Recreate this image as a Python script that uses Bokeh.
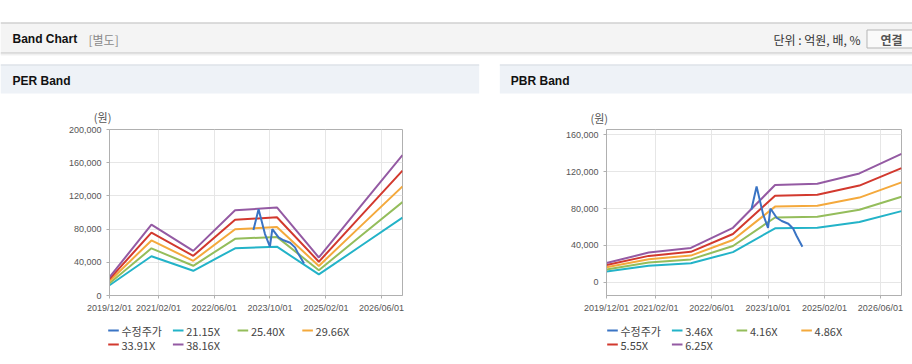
import pandas as pd
from bokeh.plotting import figure
from bokeh.layouts import column, row
from bokeh.models import (Range1d, FixedTicker, SingleIntervalTicker, NumeralTickFormatter,
                          DatetimeTickFormatter)
from bokeh.core.properties import value
from bokeh.embed import file_html
from bokeh.resources import INLINE

# ---------------- data ----------------
band_dates = ["2019-12-01", "2020-12-01", "2021-12-01", "2022-12-01",
              "2023-12-01", "2024-12-01", "2025-12-01", "2026-12-01"]

per_labels = ["21.15X", "25.40X", "29.66X", "33.91X", "38.16X"]
per_2115 = [12300, 47300, 29800, 56900, 58800, 25400, 59600, 93800]
per_2540 = [14700, 56800, 35800, 68300, 70600, 30500, 71600, 112600]
per_2966 = [17200, 66300, 41800, 79800, 82500, 35600, 83600, 131500]
per_3391 = [19700, 75800, 47800, 91200, 94300, 40700, 95600, 150400]
per_3816 = [22100, 85300, 53800, 102600, 106100, 45800, 107600, 169200]

pbr_labels = ["3.46X", "4.16X", "4.86X", "5.55X", "6.25X"]
pbr_346 = [11600, 17800, 20600, 32700, 58500, 59200, 65400, 77200]
pbr_416 = [13900, 21400, 24800, 39300, 70300, 71100, 78600, 92800]
pbr_486 = [16300, 25000, 28900, 45900, 82100, 83100, 91900, 108400]
pbr_555 = [18600, 28600, 33000, 52400, 93800, 94900, 104900, 123800]
pbr_625 = [20900, 32200, 37200, 59100, 105600, 106900, 118100, 139400]

price_label = "수정주가"
price_dates = ["2023-05-10", "2023-06-24", "2023-08-19", "2023-10-01", "2023-10-22",
               "2023-12-15", "2024-01-28", "2024-03-25", "2024-05-07", "2024-06-04",
               "2024-07-25"]
price_vals = [79000, 104000, 74000, 59000, 80000, 70000, 66500, 63500, 58000, 50500, 38500]

x_ticks = ["2019-12-01", "2021-02-01", "2022-06-01", "2023-10-01", "2025-02-01", "2026-06-01"]
x_start, x_end = "2019-12-01", "2026-12-01"

band_colors = ["#23b3c8", "#94bd5b", "#f4a93c", "#d2392e", "#945aa3"]
price_color = "#3a74c4"


def ms(s):
    return float(pd.Timestamp(s).value / 1e6)


CJK = "Noto Sans CJK KR"
LAT = "Liberation Sans"
W = 912


def screen_fig(h):
    f = figure(width=W, height=h, x_range=Range1d(0, W), y_range=Range1d(h, 0),
               output_backend="svg", toolbar_location=None, min_border=0,
               outline_line_color=None, background_fill_color="white",
               border_fill_color="white")
    f.axis.visible = False
    f.grid.visible = False
    return f


# ---------------- header (page y 0..126) ----------------
hdr = screen_fig(126)
hdr.quad(left=[0], right=[W], top=[23], bottom=[52.5], fill_color="#f4f4f4", line_color=None)
hdr.segment(x0=[0], x1=[W], y0=[22.5], y1=[22.5], line_color="#b9b9b9", line_width=1)
hdr.segment(x0=[0, 0, 0], x1=[W, W, W], y0=[52.5, 53.5, 54.5], y1=[52.5, 53.5, 54.5],
            line_color=["#c2c2c2", "#e0e0e0", "#f1f1f1"], line_width=1)
hdr.text(x=[12], y=[38.5], text=["Band Chart"], text_font=value(LAT), text_font_style="bold",
         text_font_size="12px", text_color="#111111", text_baseline="middle")
hdr.text(x=[88], y=[38.5], text=["[별도]"], text_font=value(CJK),
         text_font_size="12px", text_color="#8a8a8a", text_baseline="middle")
hdr.text(x=[860], y=[39], text=["단위 : 억원, 배, %"], text_font=value(CJK),
         text_font_size="12px", text_color="#333333", text_baseline="middle", text_align="right")
hdr.quad(left=[866.5], right=[920], top=[29.5], bottom=[47.5], fill_color="#fafafa",
         line_color="#b5b5b5", line_width=1)
hdr.text(x=[880], y=[38.5], text=["연결"], text_font=value(CJK), text_font_style="bold",
         text_font_size="12px", text_color="#555555", text_baseline="middle")
hdr.quad(left=[0, 499.3], right=[478.7, W], top=[64, 64], bottom=[93, 93],
         fill_color="#eef2f7", line_color=None)
hdr.segment(x0=[0, 499.3], x1=[478.7, W], y0=[64.5, 64.5], y1=[64.5, 64.5],
            line_color="#d6dbe1", line_width=1)
hdr.text(x=[12, 510.3], y=[80.7, 80.7], text=["PER Band", "PBR Band"], text_font=value(LAT),
         text_font_style="bold", text_font_size="12px", text_color="#111111",
         text_baseline="middle")
hdr.text(x=[93.3, 590], y=[116.5, 117.5], text=["(원)", "(원)"], text_font=value(CJK),
         text_font_size="11px", text_color="#555555", text_baseline="middle")


# ---------------- charts (page y 126..318) ----------------
def make_chart(width, left, right, top, bottom, y0, y1, series):
    p = figure(width=width, height=192, x_axis_type="datetime",
               x_range=Range1d(ms(x_start), ms(x_end)), y_range=Range1d(y0, y1),
               output_backend="svg", toolbar_location=None,
               min_border_left=left, min_border_right=right, min_border_top=top,
               min_border_bottom=bottom, background_fill_color="white",
               border_fill_color="white", outline_line_color="#b0b0b0")
    bd = [ms(d) for d in band_dates]
    for vals, col in zip(series, band_colors):
        p.line(bd, vals, line_color=col, line_width=2)
    p.line([ms(d) for d in price_dates], price_vals, line_color=price_color, line_width=2)

    p.xaxis.ticker = FixedTicker(ticks=[ms(t) for t in x_ticks])
    fmt = "%Y/%m/%d"
    p.xaxis.formatter = DatetimeTickFormatter(days=fmt, months=fmt, years=fmt)
    p.yaxis.ticker = SingleIntervalTicker(interval=40000)
    p.yaxis.formatter = NumeralTickFormatter(format="0,0")
    for ax in (p.xaxis[0], p.yaxis[0]):
        ax.axis_line_color = "#b0b0b0"
        ax.major_tick_line_color = "#b0b0b0"
        ax.major_tick_out = 3
        ax.major_tick_in = 0
        ax.minor_tick_line_color = None
        ax.major_label_text_font = LAT
        ax.major_label_text_font_size = "9px"
        ax.major_label_text_color = "#555555"
        ax.major_label_standoff = 4
    p.grid.grid_line_color = "#e6e6e6"
    return p


per = make_chart(489, 109, 87, 3, 22, 0, 200000,
                 [per_2115, per_2540, per_2966, per_3391, per_3816])
pbr = make_chart(423, 117, 11, 2, 23, -14400, 165800,
                 [pbr_346, pbr_416, pbr_486, pbr_555, pbr_625])

# ---------------- legends (page y 318..358) ----------------
leg = screen_fig(40)
pitch = 64.7
for base, labels in ((107.7, per_labels), (606.7, pbr_labels)):
    names = [price_label] + labels
    cols = [price_color] + band_colors
    xs = [base + (i % 4) * pitch for i in range(len(names))]
    ys = [12 if i < 4 else 26 for i in range(len(names))]
    leg.segment(x0=xs, x1=[x + 10.6 for x in xs], y0=ys, y1=ys, line_color=cols, line_width=2)
    leg.text(x=[x + 13.3 for x in xs], y=ys, text=names, text_font=value(CJK),
             text_font_size="11px", text_color="#444444", text_baseline="middle")

layout = column(hdr, row(per, pbr, spacing=0), leg, spacing=0)

open("out.html", "w").write(file_html(layout, INLINE))
